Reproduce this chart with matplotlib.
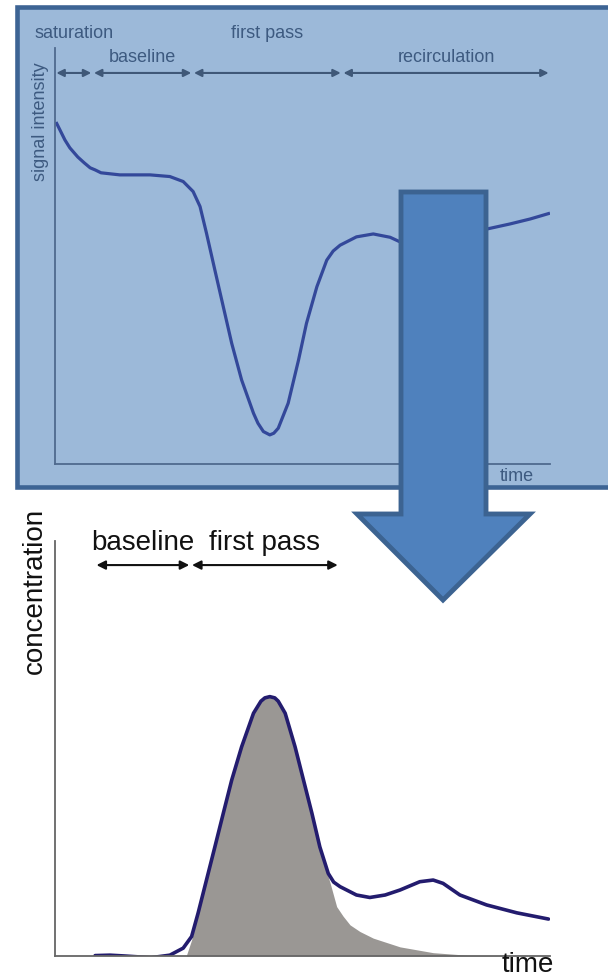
import matplotlib.pyplot as plt
from matplotlib.patches import Rectangle, Polygon

plt.rcParams['font.family'] = ['Liberation Sans', 'DejaVu Sans']

# signal intensity curve (time in arbitrary units 0-100)
sig_t = [0.2, 1.0, 2.0, 3.0, 4.6, 5.9, 7.1, 8.1, 9.3, 13.1, 19.2, 23.2, 25.9,
         27.9, 29.3, 30.6, 32.3, 34.0, 35.7, 37.7, 40.1, 41.0, 42.1, 43.4,
         44.2, 45.1, 47.1, 49.2, 50.8, 52.9, 54.9, 56.2, 57.6, 60.9, 64.3,
         67.7, 69.7, 73.7, 78.8, 82.8, 87.3, 91.9, 96.0, 100.0]
sig_v = [82.2, 80.3, 77.9, 76.0, 73.8, 72.4, 71.2, 70.7, 70.0, 69.5, 69.5,
         69.1, 67.9, 65.5, 61.9, 55.5, 46.6, 37.8, 29.0, 20.2, 12.2, 9.8,
         7.8, 7.0, 7.4, 8.6, 14.6, 25.0, 33.8, 42.6, 49.0, 51.2, 52.6, 54.6,
         55.3, 54.5, 53.4, 52.9, 53.8, 55.5, 56.5, 57.7, 58.9, 60.3]

# concentration curve
conc_t = [8.1, 11.1, 14.1, 19.4, 23.2, 25.9, 27.6, 28.9, 30.6, 32.3, 34.0,
          35.7, 37.7, 40.1, 41.6, 42.4, 43.4, 44.4, 45.1, 46.5, 48.5, 50.2,
          51.9, 53.5, 55.2, 56.3, 57.6, 60.9, 63.6, 66.7, 69.7, 73.7, 76.4,
          78.4, 81.8, 87.2, 93.3, 99.7]
conc_v = [0.1, 0.2, 0.0, -0.4, 0.2, 1.9, 4.7, 10.3, 18.3, 26.3, 34.4,
          42.4, 50.4, 58.5, 61.4, 62.2, 62.5, 62.2, 61.4, 58.5, 50.4, 42.4,
          34.4, 26.3, 19.9, 17.8, 16.7, 14.7, 14.1, 14.7, 15.9, 17.9, 18.3,
          17.5, 14.7, 12.3, 10.4, 8.9]

# first-pass fit (shaded)
fit_t = [26.5, 27.6, 28.9, 30.6, 32.3, 34.0, 35.7, 37.7, 40.1, 41.6, 42.4,
         43.4, 44.4, 45.1, 46.5, 48.5, 50.2, 51.9, 53.5, 54.2, 55.6, 56.9,
         58.2, 59.6, 61.6, 64.3, 69.7, 76.4, 83.2, 90.0, 99.0]
fit_v = [0.0, 3.9, 10.3, 18.3, 26.3, 34.4, 42.4, 50.4, 58.5, 61.4, 62.2,
         62.5, 62.2, 61.4, 58.5, 50.4, 42.4, 34.4, 26.3, 23.1, 17.5, 11.9,
         9.6, 7.5, 5.9, 4.3, 2.2, 0.8, 0.2, 0.05, 0.0]

# phases
top_edges = [0, 7.6, 27.8, 58.0, 100]
top_labels = ['saturation', 'baseline', 'first pass', 'recirculation']
bot_edges = [8.1, 27.4, 57.4]
bot_labels = ['baseline', 'first pass']

W, H = 608, 977
fig = plt.figure(figsize=(W / 100, H / 100), dpi=100)


def fx(px):
    return px / W


def fy(py):
    return 1 - py / H


# blue panel behind the upper plot
fig.patches.append(Rectangle((fx(17), fy(487)), 1.1, fy(7) - fy(487),
                             transform=fig.transFigure, facecolor='#9cb9d9',
                             edgecolor='#3d6494', lw=3.3, zorder=-1))

# --- signal intensity ---
ax1 = fig.add_axes([fx(55), fy(464), fx(550) - fx(55), fy(48) - fy(464)])
ax1.patch.set_alpha(0)
ax1.set_xlim(0, 100)
ax1.set_ylim(0, 100)
for s in ['top', 'right']:
    ax1.spines[s].set_visible(False)
for s in ['left', 'bottom']:
    ax1.spines[s].set_color('#4f6a8e')
    ax1.spines[s].set_linewidth(1.3)
ax1.set_xticks([])
ax1.set_yticks([])
ax1.plot(sig_t, sig_v, color='#33489a', lw=2.3, solid_capstyle='butt',
         solid_joinstyle='round')

tc = '#3d5a80'
for i, lab in enumerate(top_labels):
    a, b = top_edges[i], top_edges[i + 1]
    ax1.annotate('', xy=(b, 94.0), xytext=(a, 94.0), annotation_clip=False,
                 arrowprops=dict(arrowstyle='<|-|>', color='#3f5878', lw=1.5,
                                 mutation_scale=11, shrinkA=1, shrinkB=1))
    y = 103.6 if i % 2 == 0 else 97.8
    ax1.text((a + b) / 2, y, lab, ha='center', va='center', fontsize=13,
             color=tc, clip_on=False)
ax1.text(-3.0, 82.2, 'signal intensity', rotation=90, ha='center', va='center',
         fontsize=13, color=tc, clip_on=False)
ax1.text(93.3, -3.1, 'time', ha='center', va='center', fontsize=13, color=tc,
         clip_on=False)

# --- concentration ---
ax2 = fig.add_axes([fx(55), fy(956), fx(550) - fx(55), fy(541) - fy(956)])
ax2.patch.set_alpha(0)
ax2.set_xlim(0, 100)
ax2.set_ylim(0, 100)
for s in ['top', 'right']:
    ax2.spines[s].set_visible(False)
for s in ['left', 'bottom']:
    ax2.spines[s].set_color('#666666')
    ax2.spines[s].set_linewidth(1.3)
ax2.set_xticks([])
ax2.set_yticks([])
ax2.fill_between(fit_t, 0, fit_v, color='#9a9794', lw=0)
ax2.plot(conc_t, conc_v, color='#231c6e', lw=2.6, solid_capstyle='round',
         solid_joinstyle='round')

for i, lab in enumerate(bot_labels):
    a, b = bot_edges[i], bot_edges[i + 1]
    ax2.annotate('', xy=(b, 94.2), xytext=(a, 94.2), annotation_clip=False,
                 arrowprops=dict(arrowstyle='<|-|>', color='#111111', lw=1.5,
                                 mutation_scale=13, shrinkA=1, shrinkB=1))
    ax2.text((a + b) / 2, 99.5, lab, ha='center', va='center', fontsize=20,
             color='#111111', clip_on=False)
ax2.text(-4.0, 88.0, 'concentration', rotation=90, ha='center', va='center',
         fontsize=20, color='#111111', clip_on=False)
ax2.text(95.6, -2.2, 'time', ha='center', va='center', fontsize=20,
         color='#111111', clip_on=False)

# big arrow from the upper plot down to the lower one
arrow_px = [(401, 192), (486, 192), (486, 514), (530, 514), (443, 600),
            (357, 514), (401, 514)]
fig.patches.append(Polygon([(fx(x), fy(y)) for x, y in arrow_px], closed=True,
                           transform=fig.transFigure, facecolor='#4f81bd',
                           edgecolor='#3c6391', lw=3.5, joinstyle='miter',
                           zorder=5))

fig.savefig('out.png', dpi=100)
